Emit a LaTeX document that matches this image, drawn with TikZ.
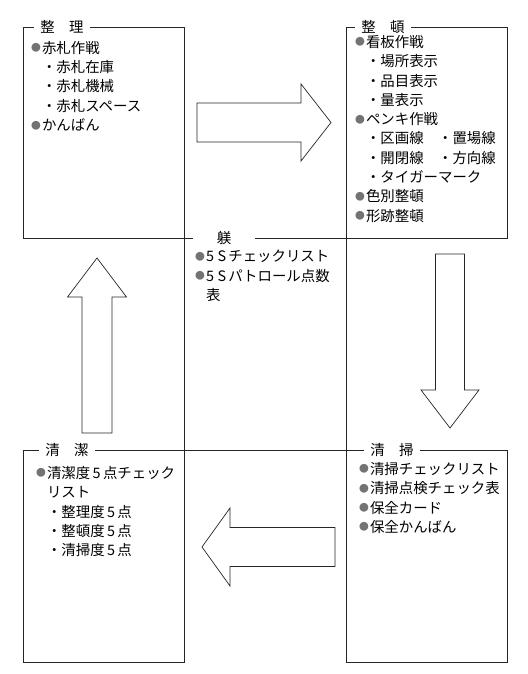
\documentclass[tikz,border=0pt]{standalone}
\usepackage{fontspec}
\setmainfont{Noto Sans CJK JP}
\usepackage{tikz}
\newcommand{\maru}{\makebox[0.75em][l]{\textcolor{black!55}{\raisebox{0.11em}{\scalebox{0.68}{●}}}}}
\newcommand{\ten}{\hspace*{0.75em}・}
\newcommand{\sage}{\hspace*{0.75em}}

\begin{document}
\begin{tikzpicture}[x=0.3mm,y=-0.3mm,
  waku/.style={draw=black!85,line width=0.7pt},
  midashi/.style={fill=white,inner xsep=2mm,inner ysep=0.5mm,font=\fontsize{12.3pt}{14pt}\selectfont},
  naka/.style={anchor=north west,inner sep=0pt,align=left,font=\fontsize{12.3pt}{16.5pt}\selectfont},
  yajirushi/.style={draw=black!85,line width=0.6pt,fill=white}
]
  \useasboundingbox (0,0) rectangle (528,674);

  \draw[waku] (23,27) rectangle (184,238);
  \draw[waku] (346,27) rectangle (507,238);
  \draw[waku] (184,238) rectangle (346,450);
  \draw[waku] (23,450) rectangle (184,662);
  \draw[waku] (346,450) rectangle (507,662);

  \node[midashi] (t-seiri) at (62,27) {整　理};
  \node[midashi] (t-seiton) at (383,27) {整　頓};
  \node[midashi,minimum width=18.6mm] (t-shitsuke) at (224,238) {躾};
  \node[midashi] (t-seiketsu) at (67,450) {清　潔};
  \node[midashi] (t-seisou) at (392,450) {清　掃};

  \node[naka] (c-seiri) at (31,41) {\maru 赤札作戦\\\ten 赤札在庫\\\ten 赤札機械\\\ten 赤札スペース\\\maru かんばん};
  \node[naka] (c-seiton) at (355,35) {\maru 看板作戦\\\ten 場所表示\\\ten 品目表示\\\ten 量表示\\\maru ペンキ作戦\\\ten 区画線　・置場線\\\ten 開閉線　・方向線\\\ten タイガーマーク\\\maru 色別整頓\\\maru 形跡整頓};
  \node[naka] (c-shitsuke) at (195,250) {\maru 5\hspace{0.25em}S\hspace{0.15em}チェックリスト\\\maru 5\hspace{0.25em}S\hspace{0.15em}パトロール点数\\\sage 表};
  \node[naka] (c-seiketsu) at (36,466) {\maru 清潔度\,5\,点チェック\\\sage リスト\\\ten 整理度\,5\,点\\\ten 整頓度\,5\,点\\\ten 清掃度\,5\,点};
  \node[naka] (c-seisou) at (359,462) {\maru 清掃チェックリスト\\\maru 清掃点検チェック表\\\maru 保全カード\\\maru 保全かんばん};

  \draw[yajirushi] (197,103) -- (301,103) -- (301,84) -- (331,122.5) -- (301,161) -- (301,142) -- (197,142) -- cycle;
  \draw[yajirushi] (435.5,254) -- (464.5,254) -- (464.5,390) -- (479,390) -- (450,428) -- (421,390) -- (435.5,390) -- cycle;
  \draw[yajirushi] (335,527.5) -- (230,527.5) -- (230,508) -- (202,547) -- (230,586) -- (230,566.5) -- (335,566.5) -- cycle;
  \draw[yajirushi] (82,433) -- (82,297) -- (67.5,297) -- (97,258) -- (126.5,297) -- (112,297) -- (112,433) -- cycle;
\end{tikzpicture}
\end{document}
